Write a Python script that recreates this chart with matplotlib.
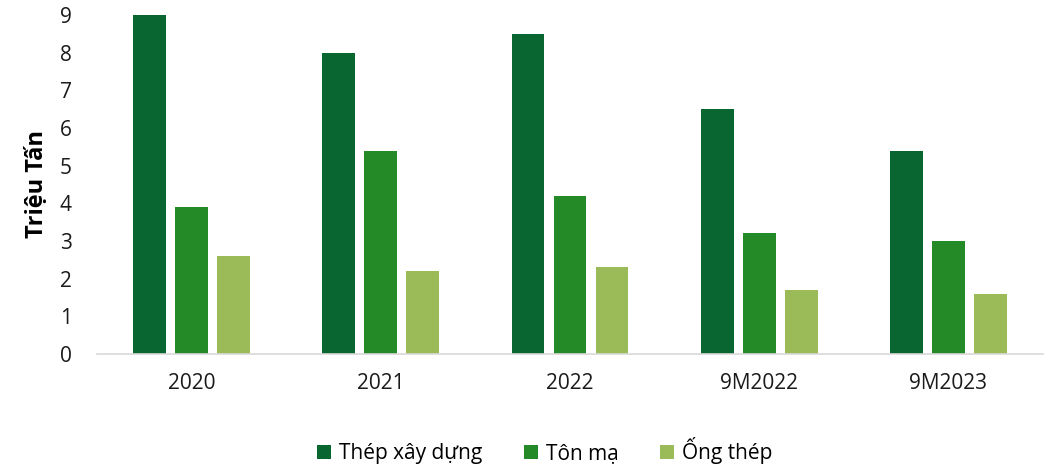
import matplotlib
matplotlib.use("Agg")
import matplotlib.pyplot as plt
import numpy as np

categories = ["2020", "2021", "2022", "9M2022", "9M2023"]
series_names = ["Thép xây dựng", "Tôn mạ", "Ống thép"]
thep_xay_dung = [9.0, 8.0, 8.5, 6.5, 5.4]
ton_ma = [3.9, 5.4, 4.2, 3.2, 3.0]
ong_thep = [2.6, 2.2, 2.3, 1.7, 1.6]
y_ticks = [0, 1, 2, 3, 4, 5, 6, 7, 8, 9]

colors = ["#0a6630", "#238a27", "#9bbb59"]

plt.rcParams['font.family'] = ['Open Sans', 'DejaVu Sans']

fig = plt.figure(figsize=(10.51, 4.68), dpi=100)
ax = fig.add_axes([97/1051, 1-354/468, (1043-97)/1051, (354-15)/468])

x = np.arange(len(categories))
w = 0.174
offs = [-0.222, 0, 0.222]
for vals, off, c, name in zip([thep_xay_dung, ton_ma, ong_thep], offs, colors, series_names):
    ax.bar(x + off, vals, width=w, color=c, label=name, zorder=3)

ax.set_xlim(-0.5, len(categories) - 0.5)
ax.set_ylim(0, 9)
ax.set_yticks(y_ticks)
ax.set_xticks(x)
ax.set_xticklabels(categories)
ax.tick_params(axis='both', length=0, labelsize=15, colors='#1a1a1a')
ax.tick_params(axis='x', pad=14)
ax.tick_params(axis='y', pad=18)
for s in ['top', 'right', 'left']:
    ax.spines[s].set_visible(False)
ax.spines['bottom'].set_color('#d9d9d9')
ax.spines['bottom'].set_linewidth(1.2)
ax.spines['bottom'].set_zorder(4)

ax.set_ylabel("Triệu Tấn", fontsize=17, fontweight='bold', labelpad=8)

fig.legend(loc='center', bbox_to_anchor=(545/1051, 1-451/468), ncol=3, frameon=False,
           fontsize=15, handlelength=0.65, handleheight=0.65, columnspacing=2.0, handletextpad=0.4)

fig.savefig("out.png", dpi=100)
